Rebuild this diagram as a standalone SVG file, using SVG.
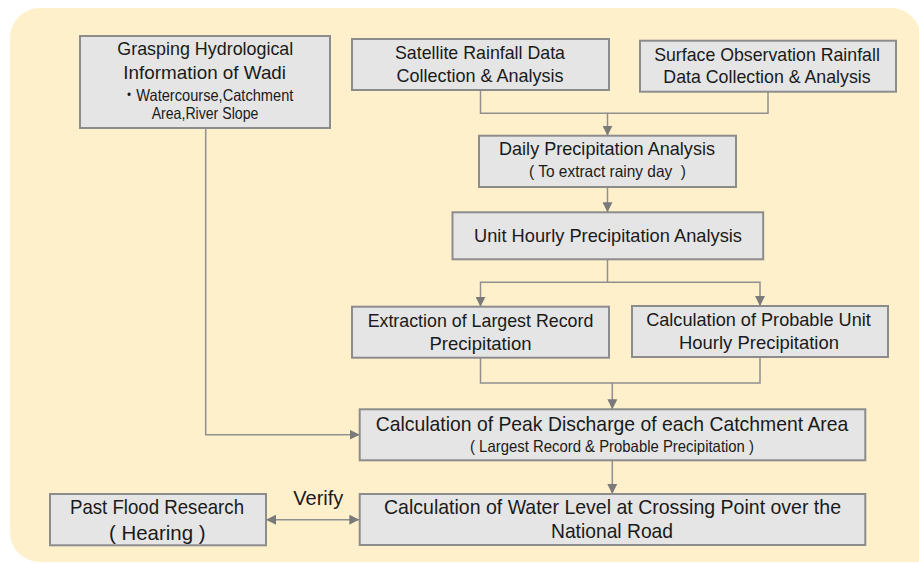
<svg xmlns="http://www.w3.org/2000/svg" width="919" height="564" viewBox="0 0 919 564">
  <style>
    .box { fill: #e5e5e5; stroke: #8c8c8c; stroke-width: 2; }
    .t { font-family: "Liberation Sans", "Noto Sans CJK JP", sans-serif; fill: #1a1a1a; text-anchor: middle; }
    .f21 { font-size: 21px; }
    .f19 { font-size: 19px; }
    .f18 { font-size: 18.5px; }
    .f16 { font-size: 16.5px; }
    .link { fill: none; stroke: #8f8f8f; stroke-width: 1.5; }
  </style>
  <defs>
    <marker id="arrow" markerUnits="userSpaceOnUse" markerWidth="10" markerHeight="10" viewBox="0 0 10 10" refX="10" refY="5" orient="auto-start-reverse">
      <path d="M0,0 L10,5 L0,10 Z" fill="#7a7a7a"/>
    </marker>
  </defs>

  <!-- backdrop panel -->
  <path d="M40,8 H891 A30,30 0 0 1 921,38 V562 H40 A30,30 0 0 1 10,532 V38 A30,30 0 0 1 40,8 Z" fill="#fff0cc"/>

  <!-- connectors -->
  <g id="connectors">
    <path class="link" d="M480.5,90 V113.3 H607.5 V135.7" marker-end="url(#arrow)"/>
    <path class="link" d="M768,92 V113.3 H607.5"/>
    <path class="link" d="M607.5,187 V212.3" marker-end="url(#arrow)"/>
    <path class="link" d="M607.5,259.3 V282.3 H480.5 V306.7" marker-end="url(#arrow)"/>
    <path class="link" d="M607.5,282.3 H760 V306" marker-end="url(#arrow)"/>
    <path class="link" d="M480.5,357.7 V383 H612.3 V409.3" marker-end="url(#arrow)"/>
    <path class="link" d="M760,357 V383 H612.3"/>
    <path class="link" d="M205.7,128 V434.7 H359.7" marker-end="url(#arrow)"/>
    <path class="link" d="M612.3,460.3 V494" marker-end="url(#arrow)"/>
    <path class="link" d="M266,519.7 H359.3" marker-start="url(#arrow)" marker-end="url(#arrow)"/>
    <text class="t f21" x="318.3" y="505" textLength="50" lengthAdjust="spacingAndGlyphs">Verify</text>
  </g>

  <g id="hydro-info">
    <rect class="box" x="80" y="36" width="250" height="92"/>
    <text class="t f19" x="205.3" y="55" textLength="176" lengthAdjust="spacingAndGlyphs">Grasping Hydrological</text>
    <text class="t f19" x="204.7" y="79.3" textLength="162.7" lengthAdjust="spacingAndGlyphs">Information of Wadi</text>
    <text class="t f16" x="207.5" y="100.7" textLength="171.7" lengthAdjust="spacingAndGlyphs">・Watercourse,Catchment</text>
    <text class="t f16" x="205" y="119.3" textLength="106.7" lengthAdjust="spacingAndGlyphs">Area,River Slope</text>
  </g>

  <g id="satellite">
    <rect class="box" x="352" y="39" width="257" height="51"/>
    <text class="t f18" x="480" y="59.3" textLength="170" lengthAdjust="spacingAndGlyphs">Satellite Rainfall Data</text>
    <text class="t f18" x="480" y="82.3" textLength="167" lengthAdjust="spacingAndGlyphs">Collection &amp; Analysis</text>
  </g>

  <g id="surface">
    <rect class="box" x="640" y="40.7" width="256" height="51"/>
    <text class="t f18" x="767" y="60.7" textLength="225.7" lengthAdjust="spacingAndGlyphs">Surface Observation Rainfall</text>
    <text class="t f18" x="767" y="83.3" textLength="207.3" lengthAdjust="spacingAndGlyphs">Data Collection &amp; Analysis</text>
  </g>

  <g id="daily">
    <rect class="box" x="479" y="135.7" width="257" height="51.3"/>
    <text class="t f18" x="607" y="155" textLength="216" lengthAdjust="spacingAndGlyphs">Daily Precipitation Analysis</text>
    <text class="t f16" x="607.5" y="176.7" textLength="157" lengthAdjust="spacingAndGlyphs">( To extract rainy day &#160;)</text>
  </g>

  <g id="hourly">
    <rect class="box" x="452.5" y="212.3" width="310.7" height="47"/>
    <text class="t f19" x="608" y="241.7" textLength="268" lengthAdjust="spacingAndGlyphs">Unit Hourly Precipitation Analysis</text>
  </g>

  <g id="largest-record">
    <rect class="box" x="352" y="306.7" width="257" height="51"/>
    <text class="t f19" x="480.5" y="326.7" textLength="225.7" lengthAdjust="spacingAndGlyphs">Extraction of Largest Record</text>
    <text class="t f19" x="480.5" y="350" textLength="102" lengthAdjust="spacingAndGlyphs">Precipitation</text>
  </g>

  <g id="probable">
    <rect class="box" x="632" y="306" width="256" height="51"/>
    <text class="t f19" x="758.5" y="325.7" textLength="224.7" lengthAdjust="spacingAndGlyphs">Calculation of Probable Unit</text>
    <text class="t f19" x="759" y="349.3" textLength="160" lengthAdjust="spacingAndGlyphs">Hourly Precipitation</text>
  </g>

  <g id="peak-discharge">
    <rect class="box" x="359.7" y="409.3" width="505.6" height="51"/>
    <text class="t f21" x="612" y="430.7" textLength="472.6" lengthAdjust="spacingAndGlyphs">Calculation of Peak Discharge of each Catchment Area</text>
    <text class="t f16" x="612" y="452.3" textLength="284" lengthAdjust="spacingAndGlyphs">( Largest Record &amp; Probable Precipitation )</text>
  </g>

  <g id="water-level">
    <rect class="box" x="359.7" y="494" width="505.6" height="51"/>
    <text class="t f21" x="612.5" y="514.3" textLength="457" lengthAdjust="spacingAndGlyphs">Calculation of Water Level at Crossing Point over the</text>
    <text class="t f21" x="612" y="538.3" textLength="122" lengthAdjust="spacingAndGlyphs">National Road</text>
  </g>

  <g id="past-flood">
    <rect class="box" x="50" y="494" width="216" height="51.3"/>
    <text class="t f21" x="157" y="514" textLength="174" lengthAdjust="spacingAndGlyphs">Past Flood Research</text>
    <text class="t f21" x="157.3" y="540" textLength="96.7" lengthAdjust="spacingAndGlyphs">( Hearing )</text>
  </g>
</svg>
